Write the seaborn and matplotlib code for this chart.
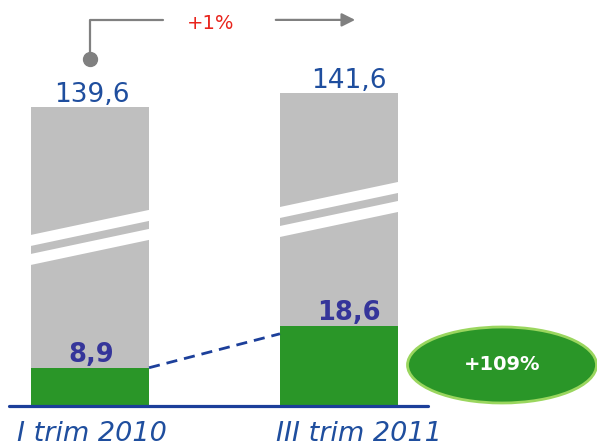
import numpy as np
import pandas as pd
import matplotlib.pyplot as plt
import seaborn as sns
from matplotlib.patches import Polygon, Ellipse
from matplotlib.transforms import IdentityTransform, blended_transform_factory, ScaledTranslation

periods = ["I trim 2010", "III trim 2011"]
totals = [139.6, 141.6]
values = [8.9, 18.6]
total_labels = ["139,6", "141,6"]
value_labels = ["8,9", "18,6"]
growth_total = "+1%"
growth_value = "+109%"

GRAY = "#bfbfbf"
GREEN = "#2a9628"
BLUE = "#1f4e9e"
NAVY = "#35359a"
LINE = "#1c3f9a"

# broken axis: linear up to 20, squeezed in the middle, opened again near the totals
brk_data = [0, 20, 130, 200]
brk_disp = [0, 20, 53.7, 169.2]


def fwd(y):
    return np.interp(y, brk_data, brk_disp)


def inv(y):
    return np.interp(y, brk_disp, brk_data)


df = pd.DataFrame({"period": periods, "total": totals, "value": values})

fig = plt.figure(figsize=(5.97, 4.47), dpi=100)
ax = fig.add_axes([0, 41 / 447, 1, 406 / 447])
sns.set_style("white")
w = 0.474

sns.barplot(data=df, x="period", y="total", color=GRAY, width=w, saturation=1,
            errorbar=None, ax=ax, zorder=1, linewidth=0)
sns.barplot(data=df, x="period", y="value", color=GREEN, width=w, saturation=1,
            errorbar=None, ax=ax, zorder=2, linewidth=0)

ax.set_yscale("function", functions=(fwd, inv))
ax.set_xlim(-90 / 249, 507 / 249)
ax.set_ylim(0, 154.7)
for s in ax.spines.values():
    s.set_visible(False)
ax.set_yticks([])
ax.set_xlabel("")
ax.set_ylabel("")
ax.set_xticks(range(len(periods)))
ax.set_xticklabels(periods, fontsize=19.5, fontstyle="italic", color=BLUE)
ax.tick_params(axis="x", length=0, pad=11)
# the labels sit a little right of the bar centres in the original
for lab, dx in zip(ax.get_xticklabels(), [2, 20]):
    lab.set_transform(lab.get_transform() + ScaledTranslation(dx / 100, 0, fig.dpi_scale_trans))
ax.axhline(0, xmin=9 / 597, xmax=428 / 597, color=LINE, lw=2.3, clip_on=False, zorder=5)

# break stripes across the gray part of each bar
for i in range(len(periods)):
    xl, yl = ax.transData.transform((i - w / 2, values[i]))
    xr, yt = ax.transData.transform((i + w / 2, totals[i]))
    yc = (yl + yt) / 2
    for lo, hi in [(4, 15), (-15, -4)]:
        pts = [(xl, yc + lo - 12.5), (xr, yc + lo + 12.5),
               (xr, yc + hi + 12.5), (xl, yc + hi - 12.5)]
        ax.add_patch(Polygon(pts, closed=True, facecolor="white", edgecolor="none",
                             transform=IdentityTransform(), zorder=3))

# labels
for i, dx in zip(range(len(periods)), [1, 7]):
    ax.annotate(total_labels[i], (i, totals[i]), xytext=(dx, 3.8), textcoords="offset points",
                ha="center", va="baseline", fontsize=19, color=BLUE)
    ax.annotate(value_labels[i], (i, values[i]), xytext=(dx, 4.3), textcoords="offset points",
                ha="center", va="baseline", fontsize=18.5, fontweight="bold", color=NAVY)

# dashed connector between the green bars
ax.plot([w / 2, 1 - w / 2], [values[0], values[1] - 1.8], color=LINE, lw=2,
        linestyle=(0, (4, 2.5)), zorder=4)

# growth bubble
ax.add_patch(Ellipse((502 / 597, 41 / 406), 189 / 597, 76 / 406, transform=ax.transAxes,
                     facecolor=GREEN, edgecolor="#9ad65e", lw=2, clip_on=False, zorder=4))
ax.text(502 / 597, 41 / 406, growth_value, transform=ax.transAxes, ha="center", va="center",
        fontsize=14, fontweight="bold", color="white", zorder=5)

# top arrow for total growth
tr = blended_transform_factory(ax.transData, ax.transAxes)
ax.plot([0, 0, 0.293], [0.855, 0.951, 0.951], color="#808080", lw=1.6, transform=tr,
        clip_on=False)
ax.plot([0], [0.855], marker="o", ms=10, color="#808080", transform=tr, clip_on=False)
ax.annotate("", xy=(1.076, 0.951), xytext=(0.735, 0.951), xycoords=tr, textcoords=tr,
            arrowprops=dict(arrowstyle="-|>", color="#808080", lw=1.6, mutation_scale=20))
ax.text(0.486, 0.943, growth_total, transform=tr, ha="center", va="center",
        fontsize=14, color="#e8241c")

fig.savefig("out.png", dpi=100)
plt.close(fig)
